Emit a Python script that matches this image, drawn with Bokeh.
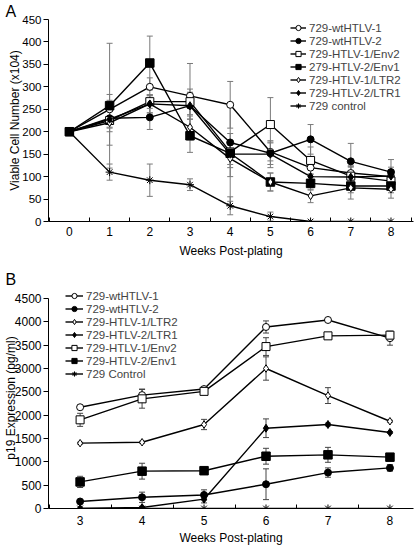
from bokeh.plotting import figure
from bokeh.models import Range1d, FixedTicker, Legend, LegendItem, Whisker, ColumnDataSource, TeeHead
from bokeh.layouts import column
from bokeh.embed import file_html
from bokeh.resources import INLINE

FONT = "Liberation Sans"

# ---------------- Panel A data ----------------
weeks_a = [0, 1, 2, 3, 4, 5, 6, 7, 8]
a_names = ["729-wtHTLV-1", "729-wtHTLV-2", "729-HTLV-1/Env2", "279-HTLV-2/Env1",
           "729-HTLV-1/LTR2", "729-HTLV-2/LTR1", "729 control"]
a_wt1 = [200, 250, 300, 280, 260, 155, 120, 108, 100]
a_wt2 = [200, 230, 232, 258, 176, 152, 183, 134, 110]
a_env2 = [200, 225, 267, 267, 155, 216, 136, 101, 90]
a_env1 = [200, 258, 353, 191, 152, 88, 85, 79, 79]
a_ltr2 = [200, 220, 262, 210, 140, 88, 57, 75, 72]
a_ltr1 = [200, 228, 262, 258, 150, 150, 100, 99, 101]
a_ctrl = [200, 110, 92, 82, 35, 11, 0, 0, 0]
a_err_wt1 = [0, 33, 20, 15, 52, 20, 15, 15, 15]
a_err_wt2 = [0, 20, 27, 20, 20, 25, 33, 40, 28]
a_err_env2 = [0, 25, 15, 85, 110, 60, 30, 20, 20]
a_err_env1 = [0, 139, 60, 37, 25, 20, 15, 15, 15]
a_err_ltr2 = [0, 50, 20, 25, 40, 20, 15, 25, 20]
a_err_ltr1 = [0, 20, 20, 30, 30, 30, 20, 25, 20]
a_err_ctrl = [0, 18, 36, 13, 20, 10, 0, 0, 0]
a_yticks = [0, 50, 100, 150, 200, 250, 300, 350, 400, 450]

# ---------------- Panel B data ----------------
weeks_b = [3, 4, 5, 6, 7, 8]
b_names = ["729-wtHTLV-1", "729-wtHTLV-2", "729-HTLV-1/LTR2", "729-HTLV-2/LTR1",
           "729-HTLV-1/Env2", "729-HTLV-2/Env1", "729 Control"]
b_wt1 = [2170, 2430, 2560, 3890, 4040, 3650]
b_wt2 = [150, 240, 290, 520, 770, 870]
b_ltr2 = [1400, 1420, 1800, 3000, 2420, 1870]
b_ltr1 = [0, 20, 200, 1720, 1800, 1630]
b_env2 = [1900, 2350, 2510, 3470, 3700, 3715]
b_env1 = [570, 800, 810, 1120, 1150, 1100]
b_ctrl = [0, 0, 0, 0, 0, 0]
b_err_wt1 = [30, 130, 40, 130, 30, 150]
b_err_wt2 = [30, 110, 110, 330, 100, 70]
b_err_ltr2 = [20, 20, 110, 250, 170, 20]
b_err_ltr1 = [10, 20, 80, 200, 30, 20]
b_err_env2 = [140, 200, 40, 190, 40, 80]
b_err_env1 = [120, 170, 30, 170, 160, 60]
b_err_ctrl = [0, 0, 0, 0, 0, 0]
b_yticks = [0, 500, 1000, 1500, 2000, 2500, 3000, 3500, 4000, 4500]

STYLE = {
    "wt1": dict(marker="circle", fill="white", size=7),
    "wt2": dict(marker="circle", fill="black", size=7),
    "env2": dict(marker="square", fill="white", size=8),
    "env1": dict(marker="square", fill="black", size=8.5),
    "ltr2": dict(marker="diamond", fill="white", size=7.5),
    "ltr1": dict(marker="diamond", fill="black", size=8),
    "ctrl": dict(marker="asterisk", fill="black", size=8),
}


def style_axes(p, xticks, xminor, yticks, ybounds, ytick_font):
    p.xgrid.visible = False
    p.ygrid.visible = False
    p.outline_line_color = None
    p.title.align = "left"
    p.title.offset = -43
    p.title.standoff = 0
    p.title.text_font = FONT
    p.title.text_font_size = "16px"
    p.title.text_font_style = "normal"
    p.title.text_color = "black"
    xa = p.xaxis[0]
    xa.ticker = FixedTicker(ticks=xticks, minor_ticks=xminor)
    xa.major_tick_line_color = None
    xa.major_tick_out = 0
    xa.major_tick_in = 0
    xa.minor_tick_in = 4
    xa.minor_tick_out = 0
    xa.minor_tick_line_color = "black"
    xa.axis_line_color = "black"
    xa.major_label_text_font = FONT
    xa.major_label_text_font_size = "12px"
    xa.major_label_text_color = "black"
    xa.axis_label_text_font = FONT
    xa.axis_label_text_font_size = "12px"
    xa.axis_label_text_font_style = "normal"
    xa.axis_label_text_color = "black"
    ya = p.yaxis[0]
    ya.ticker = FixedTicker(ticks=yticks)
    ya.bounds = ybounds
    ya.major_tick_out = 5
    ya.major_tick_in = 0
    ya.major_tick_line_color = "black"
    ya.minor_tick_line_color = None
    ya.major_label_standoff = 2
    ya.major_label_text_font = FONT
    ya.major_label_text_font_size = ytick_font
    ya.major_label_text_color = "black"
    ya.axis_label_text_font = FONT
    ya.axis_label_text_font_size = "12px"
    ya.axis_label_text_font_style = "normal"
    ya.axis_label_text_color = "black"


def add_series(p, xs, ys, errs, key, err_color):
    st = STYLE[key]
    lo = [y - e for y, e in zip(ys, errs)]
    hi = [y + e for y, e in zip(ys, errs)]
    src = ColumnDataSource(dict(x=xs, y=ys, lo=lo, hi=hi))
    w = Whisker(source=src, base="x", upper="hi", lower="lo", dimension="height",
                line_color=err_color, line_width=1, level="underlay",
                upper_head=TeeHead(size=6, line_color=err_color, line_width=1),
                lower_head=TeeHead(size=6, line_color=err_color, line_width=1))
    p.add_layout(w)
    ln = p.line("x", "y", source=src, line_color="black", line_width=1.4)
    sc = p.scatter("x", "y", source=src, marker=st["marker"], size=st["size"],
                   fill_color=st["fill"], line_color="black", line_width=1)
    return [ln, sc]


# ---------------- Figure A ----------------
pA = figure(width=416, height=262, output_backend="svg", toolbar_location=None, title="A",
            x_range=Range1d(-0.52, 8.56), y_range=Range1d(0, 450),
            min_border_left=48, min_border_right=3, min_border_top=0, min_border_bottom=41,
            x_axis_label="Weeks Post-plating", y_axis_label="Viable Cell Number (x104)")
style_axes(pA, weeks_a, [i + 0.5 for i in range(-1, 9)], a_yticks, (0, 450), "11.5px")
pA.xaxis[0].major_label_standoff = 5
pA.xaxis[0].axis_label_standoff = 5
pA.yaxis[0].axis_label_standoff = -3

a_series = [("wt1", a_wt1, a_err_wt1), ("wt2", a_wt2, a_err_wt2), ("env2", a_env2, a_err_env2),
            ("env1", a_env1, a_err_env1), ("ltr2", a_ltr2, a_err_ltr2), ("ltr1", a_ltr1, a_err_ltr1),
            ("ctrl", a_ctrl, a_err_ctrl)]
itemsA = []
for name, (key, ys, errs) in zip(a_names, a_series):
    r = add_series(pA, weeks_a, ys, errs, key, "#7a7a7a")
    itemsA.append(LegendItem(label=name, renderers=r))
legA = Legend(items=itemsA, location=(242, 109), label_text_font=FONT, label_text_font_size="11.5px",
              glyph_width=16, glyph_height=13, label_height=13, spacing=0, padding=0, margin=0,
              label_standoff=3, border_line_color=None, background_fill_alpha=0)
pA.add_layout(legA)

# ---------------- Figure B ----------------
pB = figure(width=416, height=285, output_backend="svg", toolbar_location=None, title="B",
            x_range=Range1d(2.49, 8.38), y_range=Range1d(0, 4736),
            min_border_left=48, min_border_right=3, min_border_top=25, min_border_bottom=39,
            x_axis_label="Weeks Post-plating", y_axis_label="p19 Expression (pg/ml)")
style_axes(pB, weeks_b, [i + 0.5 for i in range(2, 9)], b_yticks, (0, 4500), "12px")
pB.xaxis[0].major_label_standoff = 7
pB.xaxis[0].axis_label_standoff = 3
pB.yaxis[0].axis_label_standoff = -6

b_series = [("wt1", b_wt1, b_err_wt1), ("wt2", b_wt2, b_err_wt2), ("ltr2", b_ltr2, b_err_ltr2),
            ("ltr1", b_ltr1, b_err_ltr1), ("env2", b_env2, b_err_env2), ("env1", b_env1, b_err_env1),
            ("ctrl", b_ctrl, b_err_ctrl)]
itemsB = []
for name, (key, ys, errs) in zip(b_names, b_series):
    r = add_series(pB, weeks_b, ys, errs, key, "#444444")
    itemsB.append(LegendItem(label=name, renderers=r))
legB = Legend(items=itemsB, location=(17, 128), label_text_font=FONT, label_text_font_size="11.5px",
              glyph_width=18, glyph_height=13, label_height=13, spacing=0, padding=0, margin=0,
              label_standoff=3, border_line_color=None, background_fill_alpha=0)
pB.add_layout(legB)

layout = column(pA, pB, spacing=0)
open("out.html", "w").write(file_html(layout, INLINE))
